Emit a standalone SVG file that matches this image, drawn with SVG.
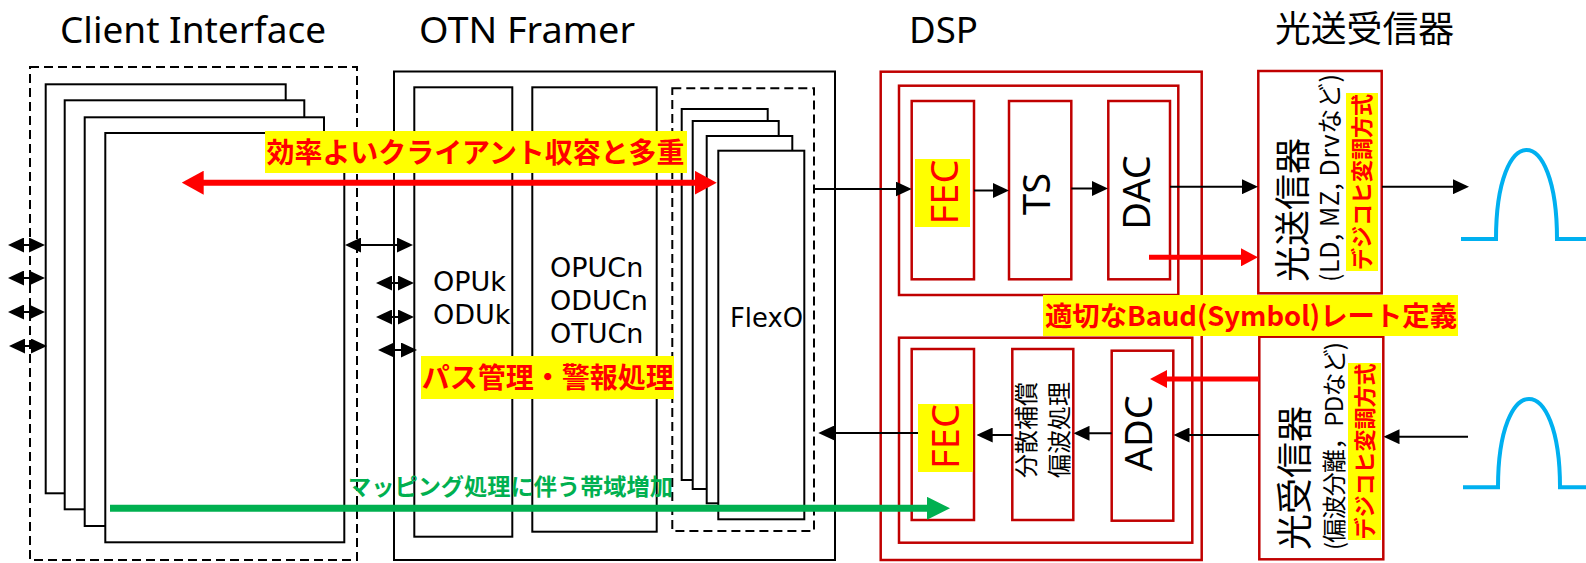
<svg xmlns="http://www.w3.org/2000/svg" width="1586" height="563" viewBox="0 0 1586 563">
<style>
.bg{fill:#fff}
.box{fill:#fff;stroke:#000;stroke-width:2}
.dash{fill:none;stroke:#000;stroke-width:2;stroke-dasharray:9 5}
.rbox{fill:#fff;stroke:#C00000;stroke-width:2.5}
.title{font-family:"Noto Sans","DejaVu Sans",sans-serif;font-size:37px;fill:#000}
.titlejp{font-family:"Noto Sans CJK JP",sans-serif;font-size:36px;fill:#000}
.lbl{font-family:"DejaVu Sans","Noto Sans",sans-serif;font-size:27px;fill:#000}
.big{font-family:"Noto Sans","DejaVu Sans",sans-serif;font-size:38px;fill:#000}
.redtxt{fill:#f00}
.jp{font-family:"Noto Sans CJK JP",sans-serif;fill:#000}
.jpb{font-family:"Noto Sans CJK JP",sans-serif;font-weight:bold;fill:#f00}
.hl{fill:#ff0}
.conn{stroke:#000;stroke-width:2;fill:none}
.red6{stroke:#f00;stroke-width:6;fill:none}
.red5{stroke:#f00;stroke-width:5;fill:none}
.grn{stroke:#00B050;stroke-width:7;fill:none}
.pulse{stroke:#00B0F0;stroke-width:4;fill:none}
</style>
<defs>
<marker id="ah" viewBox="0 0 16 15" refX="13" refY="7.5" markerWidth="16" markerHeight="15" markerUnits="userSpaceOnUse" orient="auto-start-reverse"><path d="M0,0L16,7.5L0,15z" fill="#000"/></marker>
<marker id="rh" viewBox="0 0 22 24" refX="12" refY="12" markerWidth="22" markerHeight="24" markerUnits="userSpaceOnUse" orient="auto-start-reverse"><path d="M0,0L22,12L0,24z" fill="#f00"/></marker>
<marker id="rs" viewBox="0 0 17 18" refX="10" refY="9" markerWidth="17" markerHeight="18" markerUnits="userSpaceOnUse" orient="auto-start-reverse"><path d="M0,0L17,9L0,18z" fill="#f00"/></marker>
<marker id="gh" viewBox="0 0 23 23" refX="12" refY="11.5" markerWidth="23" markerHeight="23" markerUnits="userSpaceOnUse" orient="auto-start-reverse"><path d="M0,0L23,11.5L0,23z" fill="#00B050"/></marker>
</defs>
<rect class="bg" x="0" y="0" width="1586" height="563"/>

<g id="titles">
<text class="title" x="60" y="43" textLength="266" lengthAdjust="spacingAndGlyphs">Client Interface</text>
<text class="title" x="419" y="43" textLength="216" lengthAdjust="spacingAndGlyphs">OTN Framer</text>
<text class="title" x="909" y="43" textLength="69" lengthAdjust="spacingAndGlyphs">DSP</text>
<text class="titlejp" x="1275" y="42" textLength="179" lengthAdjust="spacingAndGlyphs">光送受信器</text>
</g>

<g id="client-interface">
<rect class="dash" x="30" y="67" width="327" height="493"/>
<rect class="box" x="45.7" y="84.3" width="240" height="409"/>
<rect class="box" x="64.7" y="100.3" width="239.6" height="409"/>
<rect class="box" x="84.7" y="117.3" width="239.3" height="408.7"/>
<rect class="box" x="105.3" y="133" width="239" height="409.3"/>
</g>

<g id="otn-framer">
<rect class="box" x="394" y="71.5" width="441" height="488.5"/>
<rect class="box" x="414.3" y="87.3" width="98" height="449.4"/>
<text class="lbl" x="433" y="290.7">OPUk</text>
<text class="lbl" x="433" y="324.3">ODUk</text>
<rect class="box" x="532.3" y="87.3" width="124.4" height="444.4"/>
<text class="lbl" x="550" y="276.7">OPUCn</text>
<text class="lbl" x="550" y="310">ODUCn</text>
<text class="lbl" x="550" y="343.3">OTUCn</text>
</g>

<g id="flexo">
<rect class="dash" x="672.3" y="88.3" width="141.7" height="442.7"/>
<rect class="box" x="681.7" y="109" width="86" height="371"/>
<rect class="box" x="692.7" y="121" width="86" height="368"/>
<rect class="box" x="706.7" y="136" width="85.6" height="367.3"/>
<rect class="box" x="718.3" y="150.7" width="86" height="368.6"/>
<text class="lbl" x="730" y="326.7" textLength="73" lengthAdjust="spacingAndGlyphs">FlexO</text>
</g>

<g id="dsp">
<rect class="rbox" x="880.7" y="71.7" width="321" height="488.3"/>
<rect class="rbox" x="899" y="85.7" width="279.3" height="209.3"/>
<rect class="rbox" x="911.7" y="101" width="62.3" height="178.3"/>
<rect class="rbox" x="1009" y="101" width="62.3" height="178.3"/>
<rect class="rbox" x="1108.3" y="101" width="61.7" height="178.3"/>
<rect class="hl" x="915" y="159" width="55" height="68"/>
<text class="big redtxt" transform="translate(944.5,192) rotate(-90)" y="13.5" text-anchor="middle">FEC</text>
<text class="big" transform="translate(1036,194) rotate(-90)" y="13.5" text-anchor="middle">TS</text>
<text class="big" transform="translate(1136,192.5) rotate(-90)" y="13.5" text-anchor="middle">DAC</text>
<rect class="rbox" x="899" y="337.7" width="293.3" height="205"/>
<rect class="rbox" x="911.7" y="349" width="62.3" height="171"/>
<rect class="rbox" x="1012.3" y="349" width="61" height="171"/>
<rect class="rbox" x="1111.7" y="350.7" width="61.6" height="170"/>
<rect class="hl" x="918" y="404" width="55" height="68"/>
<text class="big redtxt" transform="translate(945,436.5) rotate(-90)" y="13.5" text-anchor="middle">FEC</text>
<text class="jp" font-size="24" transform="translate(1026,430) rotate(-90)" text-anchor="middle"><tspan x="0" y="9">分散補償</tspan><tspan x="0" y="42">偏波処理</tspan></text>
<text class="big" transform="translate(1138,433.3) rotate(-90)" y="13.5" text-anchor="middle">ADC</text>
</g>

<g id="optical-tx">
<rect class="rbox" x="1258.3" y="71" width="123.4" height="222.3"/>
<text class="jp" font-size="36" transform="translate(1306,282) rotate(-90)">光送信器</text>
<text class="jp" font-size="25" transform="translate(1339,282) rotate(-90)" textLength="208">(LD, MZ, Drvなど)</text>
<rect class="hl" x="1346" y="93" width="32" height="178"/>
<text class="jpb" font-size="22" transform="translate(1362,182) rotate(-90)" y="8" text-anchor="middle">デジコヒ変調方式</text>
</g>

<g id="optical-rx">
<rect class="rbox" x="1259.3" y="336.7" width="124" height="222.6"/>
<text class="jp" font-size="36" transform="translate(1308,550) rotate(-90)">光受信器</text>
<text class="jp" font-size="24" transform="translate(1343,550) rotate(-90)" textLength="208">(偏波分離，PDなど)</text>
<rect class="hl" x="1348" y="363" width="33" height="177"/>
<text class="jpb" font-size="22" transform="translate(1364.5,451.5) rotate(-90)" y="8" text-anchor="middle">デジコヒ変調方式</text>
</g>

<g id="signals">
<path class="pulse" d="M1461,239L1496,239C1496,120.3 1557,120.3 1557,239L1586,239"/>
<path class="pulse" d="M1463,487.3L1498,487.3C1498,369.6 1560,369.6 1560,487.3L1586,487.3"/>
</g>

<g id="connectors">
<line class="conn" x1="11" y1="245" x2="42" y2="245" marker-start="url(#ah)" marker-end="url(#ah)"/>
<line class="conn" x1="11" y1="278" x2="42" y2="278" marker-start="url(#ah)" marker-end="url(#ah)"/>
<line class="conn" x1="11" y1="312" x2="42" y2="312" marker-start="url(#ah)" marker-end="url(#ah)"/>
<line class="conn" x1="12" y1="346" x2="44" y2="346" marker-start="url(#ah)" marker-end="url(#ah)"/>
<line class="conn" x1="348" y1="245" x2="410" y2="245" marker-start="url(#ah)" marker-end="url(#ah)"/>
<line class="conn" x1="379" y1="283" x2="411" y2="283" marker-start="url(#ah)" marker-end="url(#ah)"/>
<line class="conn" x1="379" y1="317" x2="411" y2="317" marker-start="url(#ah)" marker-end="url(#ah)"/>
<line class="conn" x1="381" y1="350" x2="414" y2="350" marker-start="url(#ah)" marker-end="url(#ah)"/>
<line class="conn" x1="814" y1="189" x2="908.7" y2="189" marker-end="url(#ah)"/>
<line class="conn" x1="974" y1="190.5" x2="1006" y2="190.5" marker-end="url(#ah)"/>
<line class="conn" x1="1071.3" y1="188.5" x2="1105" y2="188.5" marker-end="url(#ah)"/>
<line class="conn" x1="1170" y1="186.7" x2="1255" y2="186.7" marker-end="url(#ah)"/>
<line class="conn" x1="1382" y1="186.7" x2="1466" y2="186.7" marker-end="url(#ah)"/>
<line class="conn" x1="1468" y1="436.7" x2="1386.5" y2="436.7" marker-end="url(#ah)"/>
<line class="conn" x1="1259" y1="435" x2="1176.5" y2="435" marker-end="url(#ah)"/>
<line class="conn" x1="1111.7" y1="433.3" x2="1076.5" y2="433.3" marker-end="url(#ah)"/>
<line class="conn" x1="1012.3" y1="435" x2="979.7" y2="435" marker-end="url(#ah)"/>
<line class="conn" x1="918" y1="433" x2="821.3" y2="433" marker-end="url(#ah)"/>
<line class="red6" x1="191.7" y1="182.7" x2="706.7" y2="182.7" marker-start="url(#rh)" marker-end="url(#rh)"/>
<line class="red5" x1="1149" y1="257.3" x2="1251" y2="257.3" marker-end="url(#rs)"/>
<line class="red5" x1="1259" y1="379" x2="1157" y2="379" marker-end="url(#rs)"/>
<line class="grn" x1="110" y1="508.3" x2="939" y2="508.3" marker-end="url(#gh)"/>
</g>

<g id="annotations">
<rect class="hl" x="265" y="131" width="422" height="42"/>
<text class="jpb" font-size="28" x="266.5" y="163" textLength="418" lengthAdjust="spacingAndGlyphs">効率よいクライアント収容と多重</text>
<rect class="hl" x="421" y="356" width="253" height="43"/>
<text class="jpb" font-size="28" x="421.7" y="388" textLength="252" lengthAdjust="spacingAndGlyphs">パス管理・警報処理</text>
<rect class="hl" x="1043" y="295" width="415" height="41"/>
<text class="jpb" font-size="27" x="1045" y="326" textLength="412" lengthAdjust="spacingAndGlyphs">適切なBaud(Symbol)レート定義</text>
<text font-family="Noto Sans CJK JP, sans-serif" font-weight="bold" font-size="23" fill="#00B050" x="348" y="494.5" textLength="325" lengthAdjust="spacingAndGlyphs">マッピング処理に伴う帯域増加</text>
</g>
</svg>
